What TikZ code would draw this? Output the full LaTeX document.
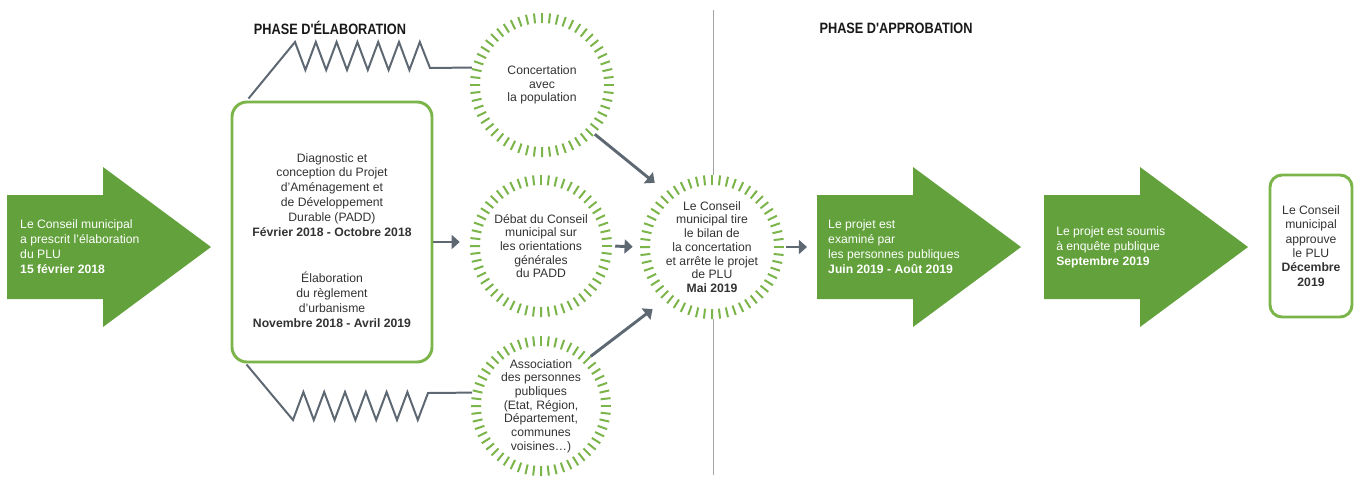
\documentclass[tikz,border=0pt]{standalone}
\usepackage{fontspec}
\setmainfont{Liberation Sans}
\newfontfamily\phasefont[FakeStretch=0.85]{Liberation Sans}
\usetikzlibrary{arrows.meta,calc}

\definecolor{plugreen}{HTML}{62A13B}
\definecolor{plulight}{HTML}{7BB54A}
\definecolor{plugray}{HTML}{5E6873}
\definecolor{plutext}{HTML}{333333}

\begin{document}
\begin{tikzpicture}[x=0.03cm,y=-0.03cm,
  conn/.style={draw=plugray,line width=2.5pt,-{Triangle[length=7pt,width=12pt]}},
  zig/.style={draw=plugray,line width=1.7pt},
  tick/.style={draw=plulight,line width=1.7pt},
  bubble/.style={circle,fill=white,inner sep=0pt,align=center,text=plutext,
    font=\fontsize{10.4}{11.7}\selectfont},
  frame/.style={draw=plulight,line width=2.5pt,fill=white},
  dark/.style={align=center,text=plutext,inner sep=0pt,
    font=\fontsize{10.4}{12.75}\selectfont},
  light/.style={anchor=west,align=left,text=white,inner sep=0pt,
    font=\fontsize{10.4}{12.75}\selectfont},
  phase/.style={font=\phasefont\fontsize{12.8}{14}\selectfont\bfseries,text=black!90}]

\useasboundingbox[fill=white] (0,0) rectangle (1357,477);

% Separation between the two phases
\draw[black!35,line width=0.8pt] (713,10) -- (713,475);

% Green arrows
\foreach \x/\n in {7/presc,817/exam,1044/enq}{
  \fill[plugreen] (\x,195) -- ++(96,0) -- ++(0,-28) -- ++(108,80)
    -- ++(-108,80) -- ++(0,-28) -- ++(-96,0) -- cycle;
  \coordinate (\n) at (\x,247);
}
\node[light] (presctxt) at (20,247) {Le Conseil municipal\\a prescrit l'élaboration\\du PLU\\\textbf{15 février 2018}};
\node[light] (examtxt) at (828,247) {Le projet est\\examiné par\\les personnes publiques\\\textbf{Juin 2019 - Août 2019}};
\node[light] (enqtxt) at (1056,247) {Le projet est soumis\\à enquête publique\\\textbf{Septembre 2019}};

% Elaboration box
\node[frame,rounded corners=0.45cm,minimum width=6cm,minimum height=7.8cm] (devbox) at (332,232) {};
\node[dark] (padd) at (332,195) {Diagnostic et\\conception du Projet\\d'Aménagement et\\de Développement\\Durable (PADD)\\\textbf{Février 2018 - Octobre 2018}};
\node[dark] (regl) at (332,300) {Élaboration\\du règlement\\d'urbanisme\\\textbf{Novembre 2018 - Avril 2019}};

% Approval box
\node[frame,rounded corners=0.36cm,minimum width=2.46cm,minimum height=4.26cm,
  dark,font=\fontsize{10.4}{12.2}\selectfont] (appro) at (1311,246)
  {Le Conseil\\municipal\\approuve\\le PLU\\\textbf{Décembre}\\\textbf{2019}};

% Circles
\node[bubble,minimum size=4.32cm] (concert) at (542,85) {Concertation\\avec\\la population};
\node[bubble,minimum size=4.26cm] (debat) at (541,246) {Débat du Conseil\\municipal sur\\les orientations\\générales\\du PADD};
\node[bubble,minimum size=4.2cm] (assoc) at (541,406) {Association\\des personnes\\publiques\\(Etat, Région,\\Département,\\communes\\voisines…)};
\node[bubble,minimum size=4.32cm] (bilan) at (712,247) {Le Conseil\\municipal tire\\le bilan de\\la concertation\\et arrête le projet\\de PLU\\\textbf{Mai 2019}};
\foreach \c/\r in {concert/2.16,debat/2.13,assoc/2.1,bilan/2.16}
  \foreach \a in {0,...,55}
    \draw[tick] ($(\c.center)+({\a*6.4286}:\r cm)$) -- ($(\c.center)+({\a*6.4286}:\r cm-0.3cm)$);

% Zigzags
\draw[zig] ($(devbox.north west)+(18,-2)$) -- (295,42)
  \foreach \k in {1,...,6}{ -- ({295+20.8*\k-10.4},70) -- ({295+20.8*\k},42)}
  -- (430,68) -- (concert.166);
\draw[zig] ($(devbox.south west)+(16,1)$) -- (293,420)
  \foreach \k in {1,...,6}{ -- ({293+20.8*\k-10.4},392) -- ({293+20.8*\k},420)}
  -- (428,393) -- (assoc.169);

% Connectors
\draw[conn,shorten >=0.3cm] ([yshift=-0.3cm]devbox.east) -- ([yshift=-0.3cm]devbox.east -| debat.west);
\draw[conn,shorten <=0.09cm,shorten >=0.21cm] (debat.east) -- (bilan.west);
\draw[conn,shorten >=0.42cm] (concert.-43) -- (bilan.130);
\draw[conn,shorten >=0.42cm] (assoc.45) -- (bilan.228);
\draw[conn,shorten <=0.06cm,shorten >=0.3cm] (bilan.east) -- (exam);

% Phases
\node[phase] (elab) at (330,28) {PHASE D'ÉLABORATION};
\node[phase] (approb) at (896,28) {PHASE D'APPROBATION};
\end{tikzpicture}
\end{document}
